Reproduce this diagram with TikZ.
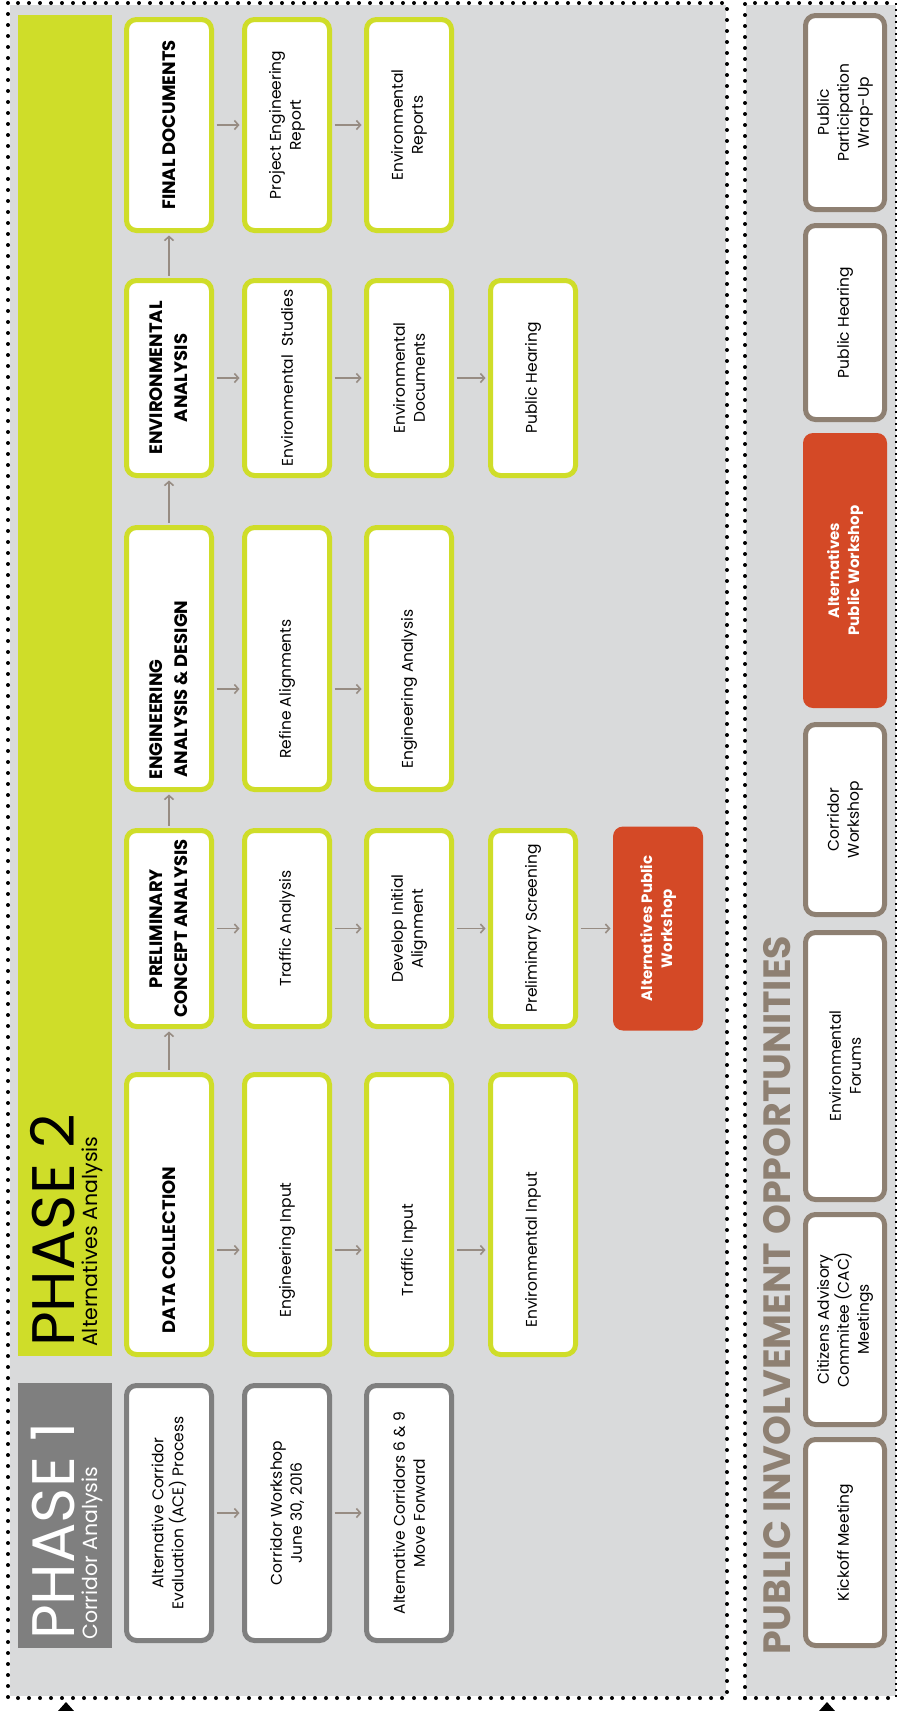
\documentclass[tikz,border=0pt]{standalone}
\usepackage{fontspec}
\setmainfont{Poppins}
\usetikzlibrary{arrows.meta}
\definecolor{panelc}{HTML}{D9DADB}
\definecolor{limec}{HTML}{CFDD29}
\definecolor{greyc}{HTML}{7F7F7F}
\definecolor{brownc}{HTML}{8E8072}
\definecolor{orangec}{HTML}{D44926}
\definecolor{arrowc}{HTML}{978C83}
\begin{document}
\begin{tikzpicture}[x=1pt,y=-1pt,
  box/.style={rotate=90,rounded corners=10pt,fill=white,line width=5pt,minimum height=85pt,
    inner sep=2pt,align=center,font=\fontsize{15.5}{20}\selectfont},
  lift/.style={execute at end node={\hspace*{#1}}},
  p1box/.style={box,draw=greyc},
  p2box/.style={box,draw=limec},
  p2head/.style={p2box,font=\fontsize{18}{25}\selectfont\bfseries},
  pibox/.style={box,draw=brownc,minimum height=79pt},
  hotbox/.style={box,fill=orangec,text=white,minimum height=90pt,font=\fontsize{15}{20}\selectfont\bfseries},
  title/.style={rotate=90,anchor=base west,inner sep=0pt},
  flow/.style={draw=arrowc,line width=1.6pt,shorten <=2.5pt,shorten >=2.5pt,-{Straight Barb[length=4pt,width=9pt]}},
  dotline/.style={line width=4pt,line cap=round,dash pattern=on 0pt off 11pt}]
  \useasboundingbox (0,0) rectangle (898,1711);
  \fill[panelc] (10,5) rectangle (726,1696);
  \fill[panelc] (746,5) rectangle (896,1696);
  \draw[dotline] (8,3) rectangle (727,1698);
  \draw[dotline] (745,1698) -- (745,3) -- (893,3);
  \draw[dotline] (745,1698) -- (893,1698);
  \draw[line width=1.5pt,dash pattern=on 2pt off 4pt] (896,3) -- (896,1698);
  \fill (58,1711) -- (66,1702) -- (74,1711) -- cycle;
  \fill (819,1711) -- (827,1702) -- (835,1711) -- cycle;

  \fill[greyc] (18,1383) rectangle (112,1648);
  \fill[limec] (18,15) rectangle (112,1356);
  \node[title,text=white,font=\fontsize{60}{60}\selectfont] (p1title) at (74,1640) {PHASE 1};
  \node[title,text=white,font=\fontsize{20.5}{20.5}\selectfont] (p1sub) at (97,1640) {Corridor Analysis};
  \node[title,font=\fontsize{60}{60}\selectfont] (p2title) at (74,1347) {PHASE 2};
  \node[title,font=\fontsize{20.5}{20.5}\selectfont] (p2sub) at (97,1347) {Alternatives Analysis};

  \foreach \x/\t [count=\i] in {169/{Alternative Corridor\\Evaluation (ACE) Process},
      287/{Corridor Workshop\\June 30, 2016},409/{Alternative Corridors 6 \& 9\\Move Forward}}
    \node[p1box,minimum width=255pt] (pa\i) at (\x,1513) {\t};

  \node[p2head,lift=71pt,minimum width=280pt] (dc1) at (169,1214.5) {DATA COLLECTION};
  \foreach \x/\t [count=\i from 2] in {287/Engineering Input,409/Traffic Input,533/Environmental Input}
    \node[p2box,lift=71pt,minimum width=280pt] (dc\i) at (\x,1214.5) {\t};

  \node[p2head,minimum width=196pt] (pc1) at (169,928.5) {PRELIMINARY\\CONCEPT ANALYSIS};
  \foreach \x/\t [count=\i from 2] in {287/Traffic Analysis,409/{Develop Initial\\Alignment},533/Preliminary Screening}
    \node[p2box,minimum width=196pt] (pc\i) at (\x,928.5) {\t};
  \node[hotbox,minimum width=204pt] (pc5) at (658,928.5) {Alternatives Public\\Workshop};

  \node[p2head,lift=61pt,minimum width=262pt] (ea1) at (169,658.5) {ENGINEERING\hspace*{61pt}\\ANALYSIS \& DESIGN};
  \foreach \x/\t [count=\i from 2] in {287/Refine Alignments,409/Engineering Analysis}
    \node[p2box,lift=61pt,minimum width=262pt] (ea\i) at (\x,658.5) {\t};

  \node[p2head,minimum width=195pt] (en1) at (169,378) {ENVIRONMENTAL\\ANALYSIS};
  \foreach \x/\t [count=\i from 2] in {287/Environmental\ \ Studies,409/{Environmental\\Documents},533/Public Hearing}
    \node[p2box,minimum width=195pt] (en\i) at (\x,378) {\t};

  \node[p2head,minimum width=211pt] (fd1) at (169,125) {FINAL DOCUMENTS};
  \foreach \x/\t [count=\i from 2] in {287/{Project Engineering\\Report},409/{Environmental\\Reports}}
    \node[p2box,minimum width=211pt] (fd\i) at (\x,125) {\t};

  \foreach \a/\b/\s in {pa1/pa2/0pt,pa2/pa3/0pt,dc1/dc2/-35.5pt,dc2/dc3/-35.5pt,dc3/dc4/-35.5pt,
      pc1/pc2/0pt,pc2/pc3/0pt,pc3/pc4/0pt,ea1/ea2/-30.5pt,ea2/ea3/-30.5pt,
      en1/en2/0pt,en2/en3/0pt,en3/en4/0pt,fd1/fd2/0pt,fd2/fd3/0pt}
    \draw[flow] ([yshift=\s]\a.south) -- ([yshift=\s]\b.north);
  \draw[flow,shorten >=0pt] (pc4.south) -- (pc5.north);
  \foreach \a/\b in {dc1/pc1,pc1/ea1,ea1/en1,en1/fd1}
    \draw[flow] (\a.east) -- (\b.west);

  \node[title,text=brownc,font=\fontsize{38}{38}\selectfont\bfseries] (pititle) at (790,1655)
    {PUBLIC INVOLVEMENT OPPORTUNITIES};
  \foreach \y/\l/\t [count=\i] in {1542.5/206pt/Kickoff Meeting,
      1319.5/210pt/{Citizens Advisory\\Commitee (CAC)\\Meetings},1066/267pt/{Environmental\\Forums},
      819.5/190pt/{Corridor\\Workshop},322.5/194pt/Public Hearing,112.5/194pt/{Public\\Participation\\Wrap-Up}}
    \node[pibox,minimum width=\l] (pi\i) at (845,\y) {\t};
  \node[hotbox,minimum height=84pt,minimum width=275pt] (pihot) at (845,570.5) {Alternatives\\Public Workshop};
\end{tikzpicture}
\end{document}
